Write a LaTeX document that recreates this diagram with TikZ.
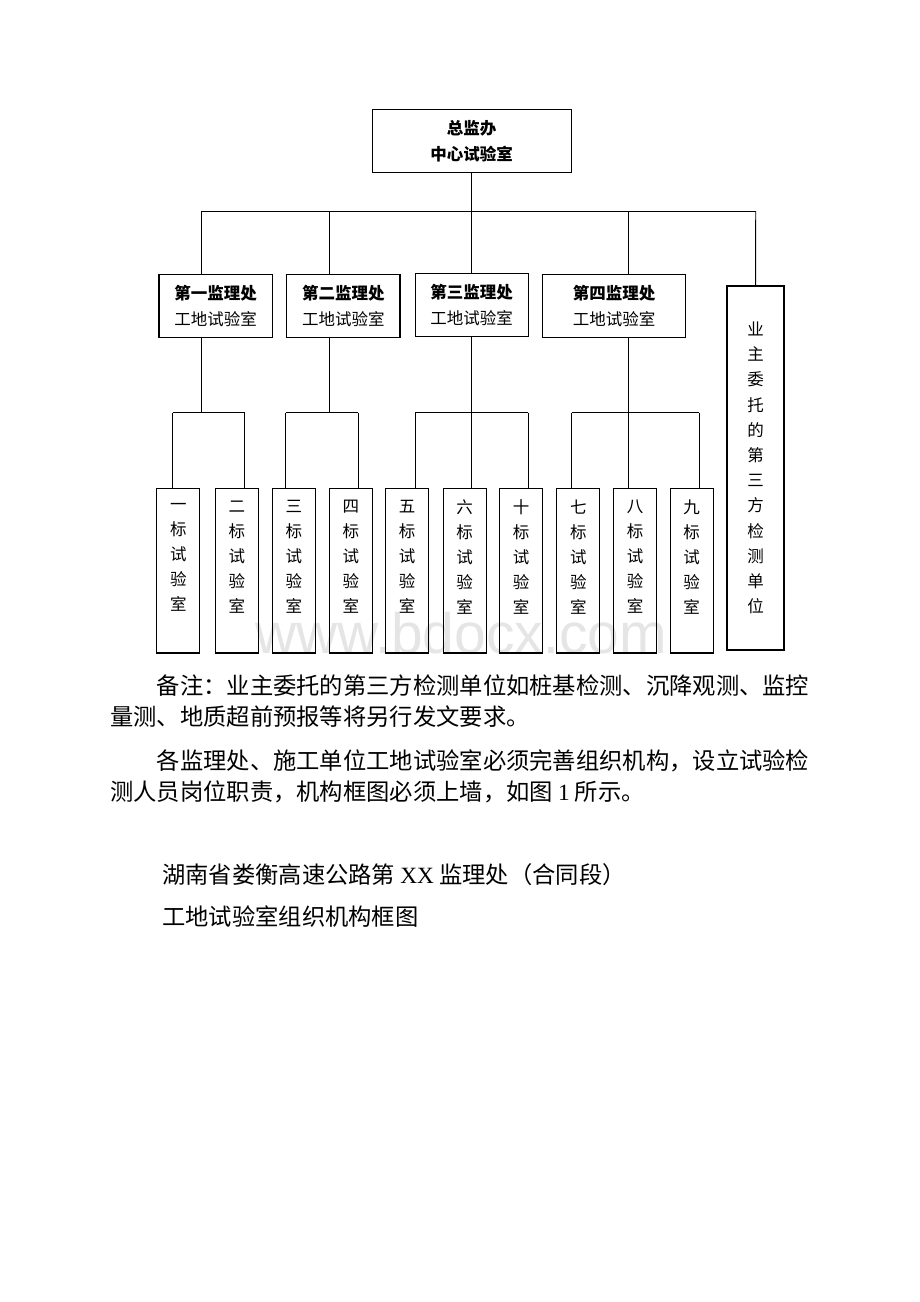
\documentclass[tikz,border=0pt]{standalone}
\usepackage{fontspec}
\setmainfont{Noto Sans CJK SC}
\newfontfamily\latinrm{Liberation Serif}
\newfontfamily\wmsans{Liberation Sans}
\begin{document}
\begin{tikzpicture}[x=1pt,y=-1pt,
        box/.style={draw,line width=1.1pt,inner sep=0pt,align=center,font=\fontsize{16.5}{26}\selectfont},
        leaf/.style={draw,line width=1.1pt,minimum width=43pt,minimum height=164.5pt,inner sep=0pt},
        leaftxt/.style={align=center,inner sep=0pt,yshift=13.75pt,font=\fontsize{16.5}{25}\selectfont},
        conn/.style={line width=0.9pt},
        body/.style={anchor=west,inner sep=0pt,font=\fontsize{23.3}{28}\selectfont}]
                \useasboundingbox (0,0) rectangle (920,1302);

                % watermark behind the boxes
                \node[anchor=base,inner sep=0pt,text=black!10,font=\wmsans\fontsize{57}{60}\selectfont] (wm) at (461,653) {www.bdocx.com};

                \node[box,minimum width=198.7pt,minimum height=63.4pt,font=\fontsize{16.5}{26}\selectfont\bfseries] (top) at (471.7,141) {总监办\\中心试验室};

                \node[box,minimum width=113.4pt,minimum height=63.3pt] (d1) at (215.7,305.7) {\textbf{第一监理处}\\工地试验室};
                \node[box,minimum width=113.4pt,minimum height=63.3pt] (d2) at (343.3,305.7) {\textbf{第二监理处}\\工地试验室};
                \node[box,minimum width=113pt,minimum height=63.4pt] (d3) at (471.6,305) {\textbf{第三监理处}\\工地试验室};
                \node[box,minimum width=143pt,minimum height=63.3pt] (d4) at (614.2,305.7) {\textbf{第四监理处}\\工地试验室};
                \node[box,minimum width=57pt,minimum height=364pt,font=\fontsize{16.5}{25.2}\selectfont] (own) at (755.5,468) {业\\主\\委\\托\\的\\第\\三\\方\\检\\测\\单\\位};

                \node[leaf] (l1) at (178.3,570.75) {}; \node[leaftxt] (t1) at (l1) {一\\标\\试\\验\\室};
                \node[leaf] (l2) at (236.8,570.75) {}; \node[leaftxt] (t2) at (l2) {二\\标\\试\\验\\室};
                \node[leaf] (l3) at (293.8,570.75) {}; \node[leaftxt] (t3) at (l3) {三\\标\\试\\验\\室};
                \node[leaf] (l4) at (350.9,570.75) {}; \node[leaftxt] (t4) at (l4) {四\\标\\试\\验\\室};
                \node[leaf] (l5) at (407.2,570.75) {}; \node[leaftxt] (t5) at (l5) {五\\标\\试\\验\\室};
                \node[leaf] (l6) at (464.7,570.75) {}; \node[leaftxt] (t6) at (l6) {六\\标\\试\\验\\室};
                \node[leaf] (l7) at (521.2,570.75) {}; \node[leaftxt] (t7) at (l7) {十\\标\\试\\验\\室};
                \node[leaf] (l8) at (578.3,570.75) {}; \node[leaftxt] (t8) at (l8) {七\\标\\试\\验\\室};
                \node[leaf] (l9) at (635,570.75) {}; \node[leaftxt] (t9) at (l9) {八\\标\\试\\验\\室};
                \node[leaf] (l10) at (691.7,570.75) {}; \node[leaftxt] (t10) at (l10) {九\\标\\试\\验\\室};

                % bus junctions
                \coordinate (m1) at (201,211); \coordinate (m2) at (329.5,211);
                \coordinate (m4) at (628.3,211); \coordinate (m5) at (755.7,211);
                \coordinate (s1) at (172.7,412.7); \coordinate (s2) at (244.5,412.7);
                \coordinate (s3) at (285.8,412.7); \coordinate (s4) at (358,412.7);
                \coordinate (s5) at (415.1,412.7); \coordinate (s7) at (528.1,412.7);
                \coordinate (s8) at (571.7,412.7); \coordinate (s10) at (699.3,412.7);

                \draw[conn] (top) -- (top |- m1); \draw[conn] (m1) -- (m5);
                \draw[conn] (m1) -- (m1 |- d1.north); \draw[conn] (m2) -- (m2 |- d2.north);
                \draw[conn] (top |- m1) -- (top |- d3.north); \draw[conn] (m4) -- (m4 |- d4.north);
                \draw[conn] (m5) -- (own);

                \draw[conn] (m1 |- d1.south) -- (m1 |- s1); \draw[conn] (s1) -- (s2);
                \draw[conn] (s1) -- (s1 |- l1.north); \draw[conn] (s2) -- (s2 |- l2.north);
                \draw[conn] (m2 |- d2.south) -- (m2 |- s3); \draw[conn] (s3) -- (s4);
                \draw[conn] (s3) -- (s3 |- l3.north); \draw[conn] (s4) -- (s4 |- l4.north);
                \draw[conn] (top |- d3.south) -- (top |- l6.north); \draw[conn] (s5) -- (s7);
                \draw[conn] (s5) -- (s5 |- l5.north); \draw[conn] (s7) -- (s7 |- l7.north);
                \draw[conn] (m4 |- d4.south) -- (m4 |- l9.north); \draw[conn] (s8) -- (s10);
                \draw[conn] (s8) -- (s8 |- l8.north); \draw[conn] (s10) -- (s10 |- l10.north);

                \node[body] (n1) at (156.6,686) {备注：业主委托的第三方检测单位如桩基检测、沉降观测、监控};
                \node[body] (n2) at (110,717) {量测、地质超前预报等将另行发文要求。};
                \node[body] (n3) at (156.6,761) {各监理处、施工单位工地试验室必须完善组织机构，设立试验检};
                \node[body] (n4) at (110,792) {测人员岗位职责，机构框图必须上墙，如图 {\latinrm 1} 所示。};
                \node[body] (n5) at (162,875) {湖南省娄衡高速公路第 {\latinrm XX} 监理处（合同段）};
                \node[body] (n6) at (162,917) {工地试验室组织机构框图};
            \end{tikzpicture}
\end{document}
